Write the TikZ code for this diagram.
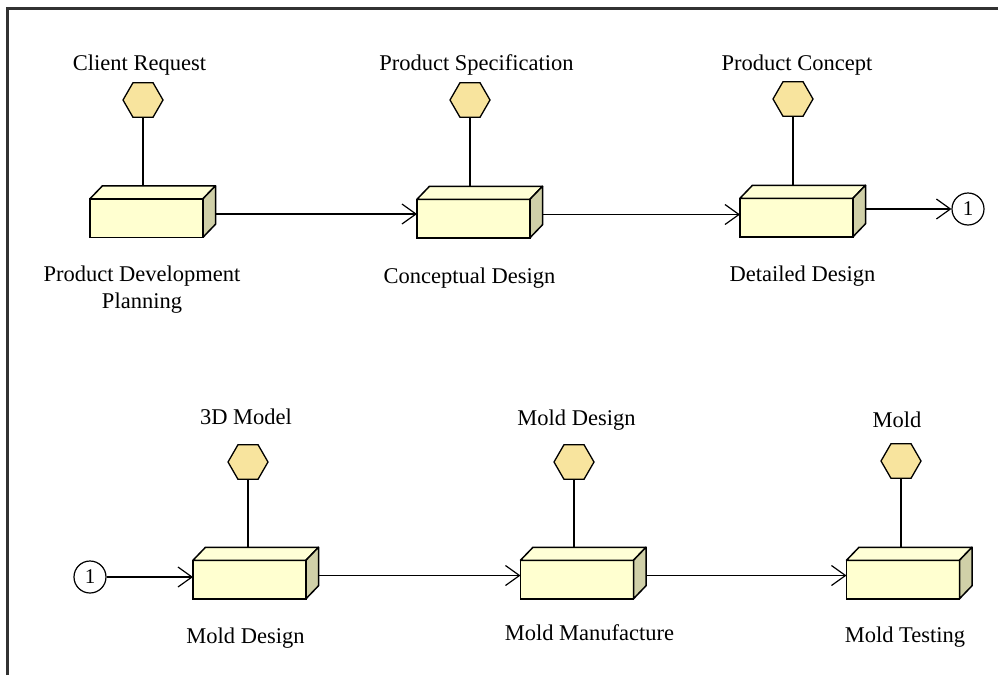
\documentclass[tikz,border=0pt]{standalone}
\usepackage{fontspec}
\setmainfont{Liberation Serif}
\usetikzlibrary{shapes.geometric,arrows.meta}
\definecolor{boxfront}{RGB}{255,255,208}
\definecolor{boxtop}{RGB}{255,255,214}
\definecolor{boxside}{RGB}{208,208,168}
\definecolor{hexfill}{RGB}{248,228,158}
\definecolor{framecol}{RGB}{50,50,50}
\tikzset{
  front/.style={draw=black, fill=boxfront, line width=1.5pt, minimum width=113pt, minimum height=38.5pt, inner sep=0pt, outer sep=0pt},
  face/.style={draw=black, line width=1.5pt, line join=round},
  hexa/.style={regular polygon, regular polygon sides=6, draw=black, fill=hexfill, line width=1.3pt, minimum size=40pt, inner sep=0pt, outer sep=0pt},
  conn/.style={line width=1.3pt},
  flow/.style={line width=1.3pt, -{Straight Barb[length=14pt,width=20pt,line width=1.2pt]}},
  lbl/.style={font=\fontsize{22.5}{27}\selectfont, anchor=base, inner sep=0pt, align=center},
  joint/.style={circle, draw=black, line width=1.2pt, minimum size=32pt, inner sep=0pt, font=\fontsize{21}{24}\selectfont},
}
\newcommand\prism[3]{%
  \node[front] (#1) at (#2,#3) {};
  \filldraw[face, fill=boxtop] (#1.north west) -- ++(12.5pt,13pt) -- ++(113pt,0pt) -- (#1.north east) -- cycle;
  \filldraw[face, fill=boxside] (#1.north east) -- ++(12.5pt,13pt) -- ++(0pt,-38.5pt) -- (#1.south east) -- cycle;
  \coordinate (#1-back) at ([yshift=13pt]#1.north);
  \coordinate (#1-out) at ([xshift=12.5pt,yshift=4pt]#1.east);
}
\begin{document}
\begin{tikzpicture}[x=1pt,y=-1pt]
\useasboundingbox (0,0) rectangle (998,675);
\draw[line width=2.5pt, framecol] (7.5,675) -- (7.5,8.5) -- (998,8.5);

% row 1
\prism{b1}{146.5}{218}
\prism{b2}{473.5}{218.5}
\prism{b3}{796.5}{217.5}
\node[hexa] (h1) at (143,100) {};
\node[hexa] (h2) at (470,100) {};
\node[hexa] (h3) at (793,99) {};
\node[joint] (c1) at (968,209) {1};

\draw[conn] (h1.south) -- (h1.south |- b1-back);
\draw[conn] (h2.south) -- (h2.south |- b2-back);
\draw[conn] (h3.south) -- (h3.south |- b3-back);
\draw[flow] (b1-out) -- (b1-out -| b2.west);
\draw[flow] (b2-out) -- (b2-out -| b3.west);
\draw[flow] (b3-out |- c1.west) -- (c1.west);

\node[lbl] (t1) at (139.5,70) {Client Request};
\node[lbl] (t2) at (476.5,70) {Product Specification};
\node[lbl] (t3) at (797,70) {Product Concept};
\node[lbl] (l1) at (142,308) {Product Development\\Planning};
\node[lbl] (l2) at (469.5,283) {Conceptual Design};
\node[lbl] (l3) at (802.5,281) {Detailed Design};

% row 2
\prism{b4}{249.5}{579.5}
\prism{b5}{577}{579.5}
\prism{b6}{903}{579.5}
\node[hexa] (h4) at (248,462) {};
\node[hexa] (h5) at (574,462) {};
\node[hexa] (h6) at (901,461) {};
\node[joint] (c2) at (90,577) {1};

\draw[conn] (h4.south) -- (h4.south |- b4-back);
\draw[conn] (h5.south) -- (h5.south |- b5-back);
\draw[conn] (h6.south) -- (h6.south |- b6-back);
\draw[flow] (c2.east) -- (c2.east -| b4.west);
\draw[flow] (b4-out) -- (b4-out -| b5.west);
\draw[flow] (b5-out) -- (b5-out -| b6.west);

\node[lbl] (t4) at (246,424) {3D Model};
\node[lbl] (t5) at (576.5,425) {Mold Design};
\node[lbl] (t6) at (897,427) {Mold};
\node[lbl] (l4) at (245.5,643) {Mold Design};
\node[lbl] (l5) at (589.5,640) {Mold Manufacture};
\node[lbl] (l6) at (905,642) {Mold Testing};
\end{tikzpicture}
\end{document}
